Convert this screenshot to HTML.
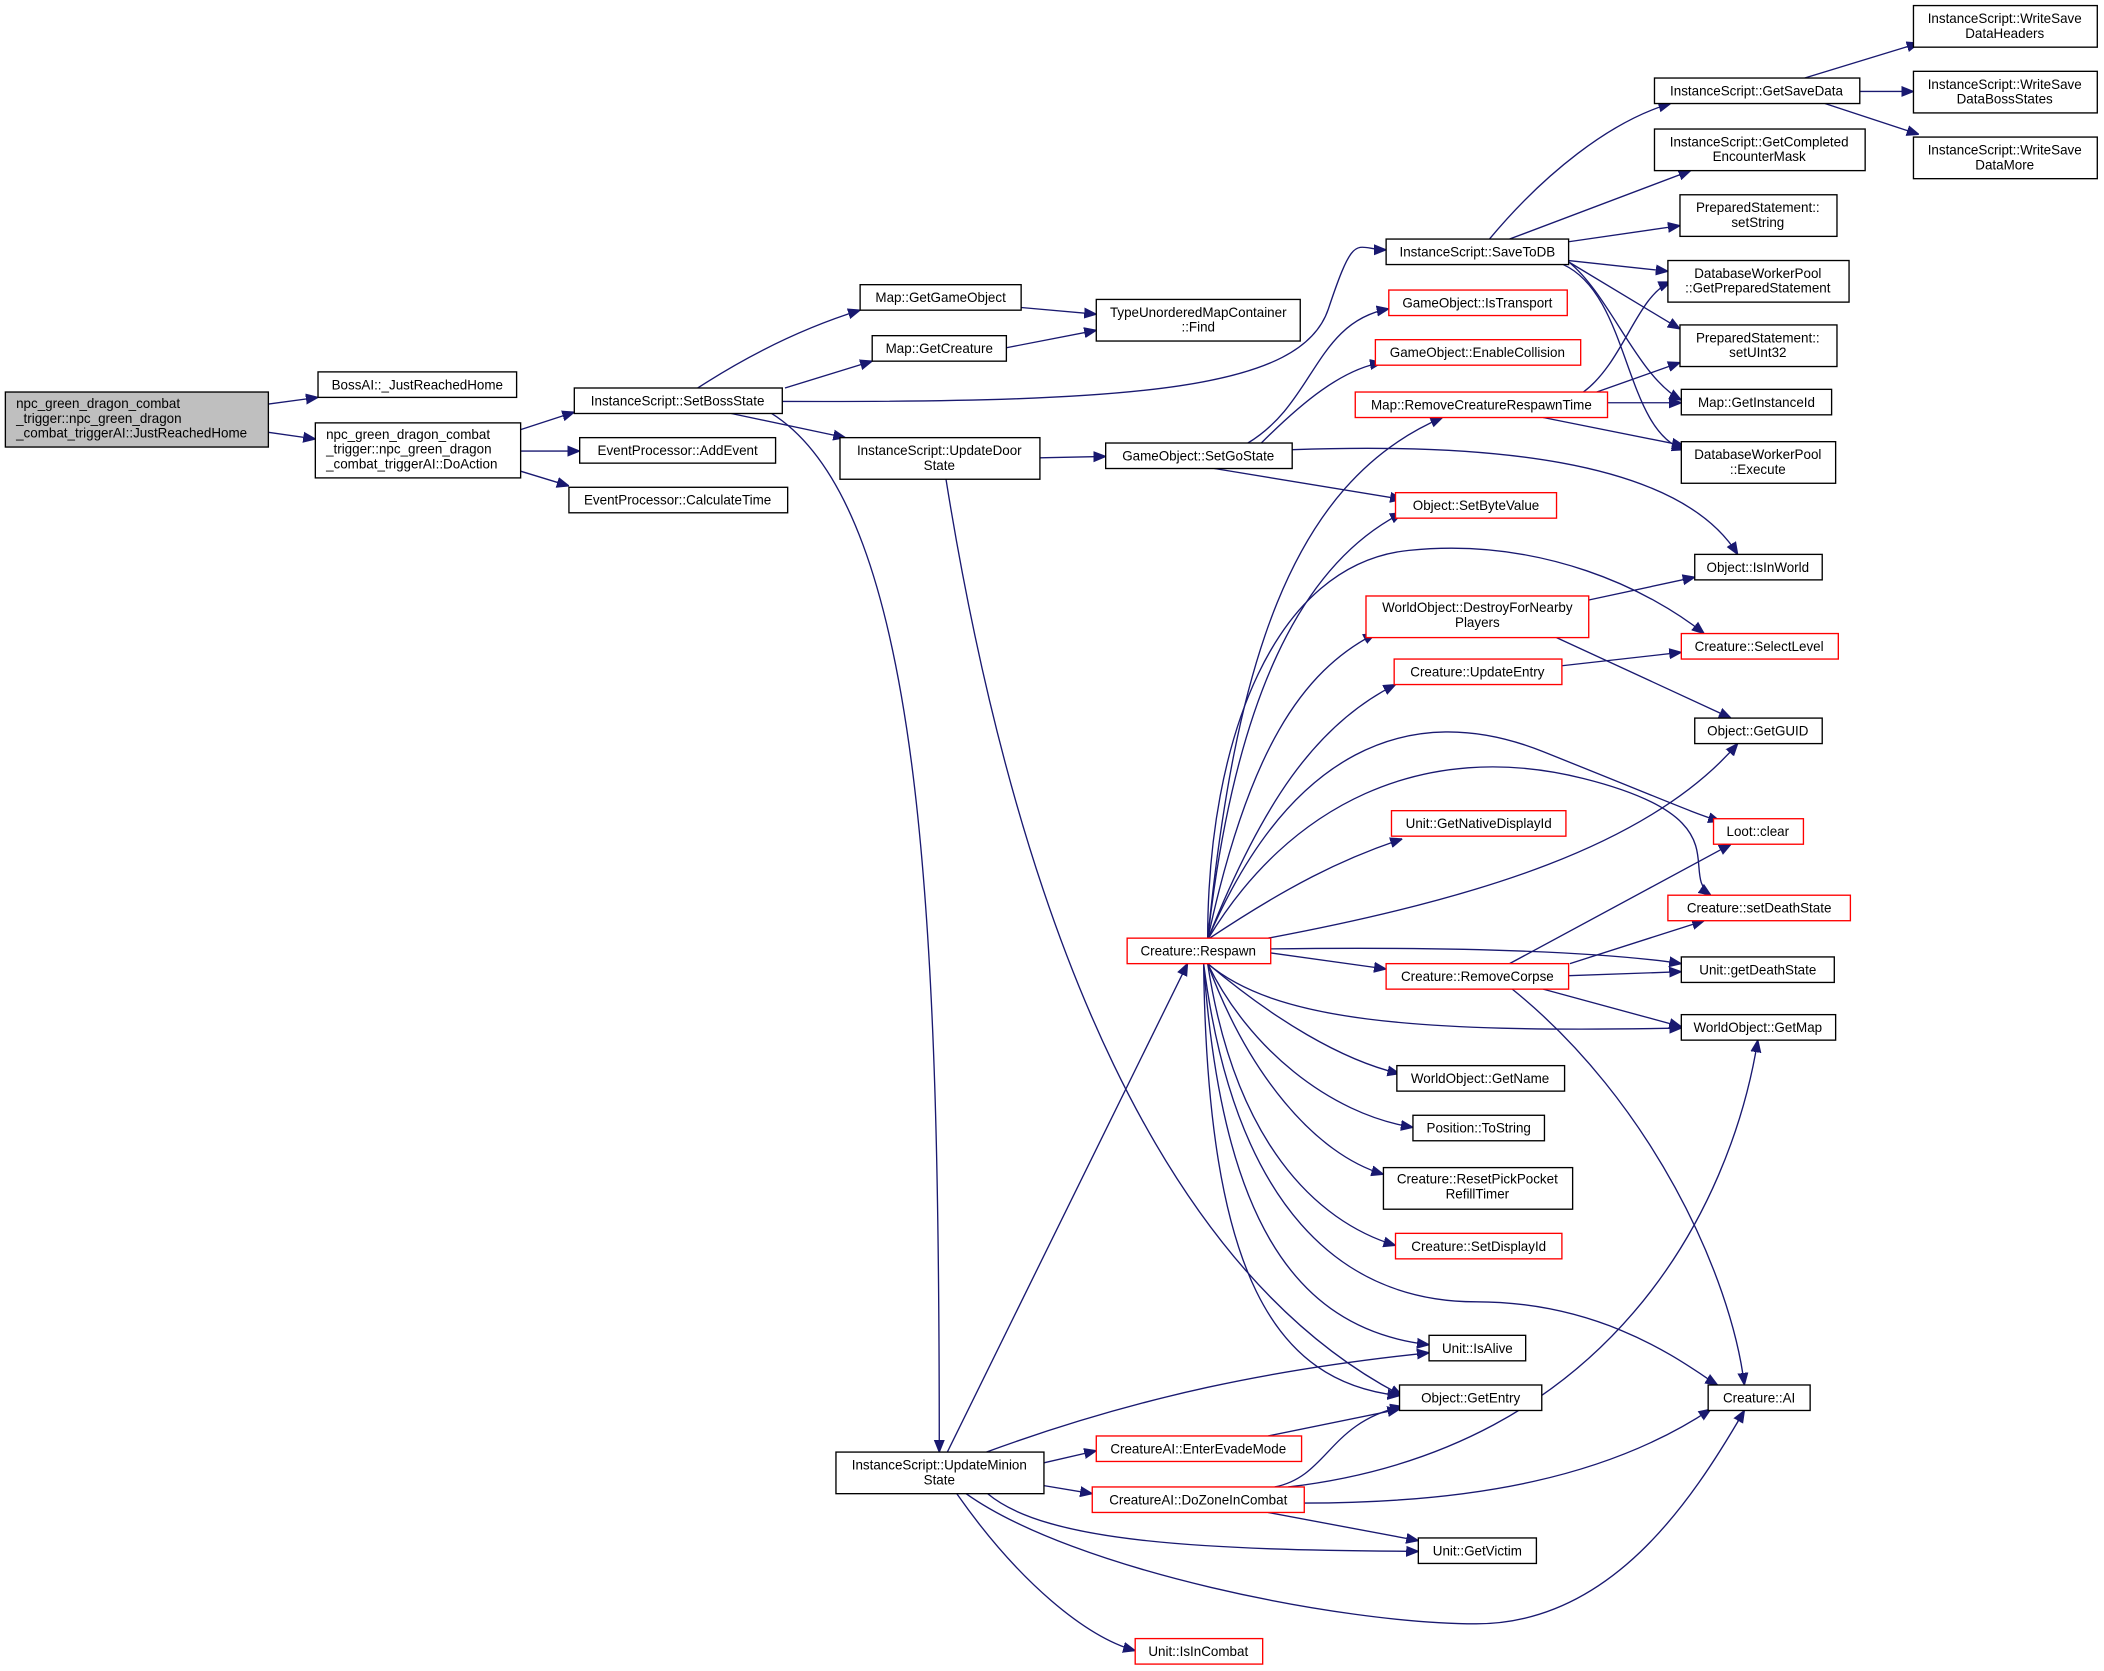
<!DOCTYPE html>
<html><head><meta charset="utf-8"><style>
html,body{margin:0;padding:0;background:#fff;}
svg{display:block;}
text{font-family:"Liberation Sans",sans-serif;font-size:10px;fill:#000;text-anchor:middle;}
.n{fill:#fff;stroke:#000;stroke-width:1;}
.r{fill:#fff;stroke:#f00;stroke-width:1;}
.e{fill:none;stroke:#191970;stroke-width:1;marker-end:url(#a);}
</style></head><body>
<svg width="2104" height="1671" viewBox="0 0 1568 1245" xmlns="http://www.w3.org/2000/svg">
<defs><marker id="a" viewBox="0 0 10 10" refX="10" refY="5" markerWidth="9" markerHeight="9" markerUnits="userSpaceOnUse" orient="auto"><path d="M0,1 L10,5 L0,9 z" fill="#191970" stroke="#191970"/></marker></defs>

<g>
<path class="e" d="M200,301 L237,296"/>
<path class="e" d="M200,322 L235,327"/>
<path class="e" d="M388,320 L428,307"/>
<path class="e" d="M388,336 L432,336"/>
<path class="e" d="M388,351 L424,362"/>
<path class="e" d="M520,289 Q580,250 641,231"/>
<path class="e" d="M585,289 L650,269"/>
<path class="e" d="M583,299 C850,300 970,290 990,230 S1010,186 1033,186"/>
<path class="e" d="M545,308 L630,326"/>
<path class="e" d="M575,308 C690,380 700,700 700,1082"/>
<path class="e" d="M761,229 L817,234"/>
<path class="e" d="M750,259 L817,246"/>
<path class="e" d="M775,341 L824,340"/>
<path class="e" d="M705,357 C760,700 870,950 1045,1040"/>
<path class="e" d="M930,330 C980,300 980,240 1035,230"/>
<path class="e" d="M940,330 C970,300 1000,275 1030,270"/>
<path class="e" d="M905,349 L1045,372"/>
<path class="e" d="M963,335 C1100,330 1250,340 1295,413"/>
<path class="e" d="M1110,178 C1150,130 1200,90 1245,77"/>
<path class="e" d="M1125,178 L1260,127"/>
<path class="e" d="M1169,180 L1252,168"/>
<path class="e" d="M1169,194 L1243,202"/>
<path class="e" d="M1169,195 L1252,245"/>
<path class="e" d="M1169,195 C1200,220 1220,280 1253,298"/>
<path class="e" d="M1165,197 C1215,220 1210,320 1255,335"/>
<path class="e" d="M1345,58 L1430,32"/>
<path class="e" d="M1386,68 L1426,68"/>
<path class="e" d="M1360,77 L1430,100"/>
<path class="e" d="M1180,292 C1210,270 1220,220 1245,210"/>
<path class="e" d="M1190,292 L1252,270"/>
<path class="e" d="M1198,300 L1253,300"/>
<path class="e" d="M1150,311 L1255,332"/>
<path class="e" d="M1184,447 L1263,430"/>
<path class="e" d="M1160,475 L1290,535"/>
<path class="e" d="M1164,496 L1253,486"/>
<path class="e" d="M1125,718 L1290,629"/>
<path class="e" d="M1170,718 L1270,686"/>
<path class="e" d="M1169,727 L1253,724"/>
<path class="e" d="M1150,737 L1253,765"/>
<path class="e" d="M1127,737 C1230,820 1290,950 1300,1032"/>
<path class="e" d="M706,1082 L885,718"/>
<path class="e" d="M735,1082 C850,1040 950,1020 1065,1008"/>
<path class="e" d="M778,1090 L817,1081"/>
<path class="e" d="M778,1107 L814,1113"/>
<path class="e" d="M736,1113 C780,1150 900,1155 1057,1156"/>
<path class="e" d="M713,1113 C760,1180 810,1220 846,1230"/>
<path class="e" d="M720,1113 C800,1170 1000,1210 1100,1210 C1200,1210 1260,1120 1300,1051"/>
<path class="e" d="M945,1070 L1043,1050"/>
<path class="e" d="M950,1108 C990,1100 990,1060 1045,1048"/>
<path class="e" d="M960,1108 C1200,1080 1290,900 1310,775"/>
<path class="e" d="M972,1120 C1100,1120 1200,1100 1275,1050"/>
<path class="e" d="M945,1127 L1057,1148"/>
<path class="e" d="M900,700 C920,500 960,360 1075,311"/>
<path class="e" d="M900,700 C920,520 970,420 1045,382"/>
<path class="e" d="M900,700 C900,550 950,420 1050,410 C1150,400 1230,440 1270,472"/>
<path class="e" d="M900,700 C930,560 970,500 1025,472"/>
<path class="e" d="M900,700 C940,600 980,540 1040,510"/>
<path class="e" d="M945,699 C1100,670 1230,630 1295,554"/>
<path class="e" d="M900,700 C960,560 1050,520 1150,560 S1260,605 1282,612"/>
<path class="e" d="M900,700 C960,600 1060,550 1180,580 S1250,650 1275,667"/>
<path class="e" d="M900,700 C960,660 1000,640 1045,625"/>
<path class="e" d="M947,707 C1100,705 1200,710 1253,718"/>
<path class="e" d="M947,710 L1033,722"/>
<path class="e" d="M900,718 C950,760 1050,770 1253,766"/>
<path class="e" d="M900,718 C950,760 1000,790 1043,800"/>
<path class="e" d="M900,718 C930,780 990,830 1053,840"/>
<path class="e" d="M900,718 C930,800 980,860 1031,875"/>
<path class="e" d="M900,718 C920,850 980,910 1040,928"/>
<path class="e" d="M897,718 C910,900 960,990 1065,1002"/>
<path class="e" d="M897,718 C900,950 950,1030 1043,1040"/>
<path class="e" d="M897,718 C920,900 1000,970 1100,970 C1200,970 1260,1020 1280,1032"/>
</g>

<rect x="4" y="292" width="196" height="41" fill="#bfbfbf" stroke="#000"/>
<text x="12" y="304" style="text-anchor:start">npc_green_dragon_combat</text>
<text x="12" y="315" style="text-anchor:start">_trigger::npc_green_dragon</text>
<text x="12" y="326" style="text-anchor:start">_combat_triggerAI::JustReachedHome</text>

<rect class="n" x="237" y="277" width="148" height="19"/><text x="311" y="290">BossAI::_JustReachedHome</text>
<rect class="n" x="235" y="315" width="153" height="41"/>
<text x="243" y="327" style="text-anchor:start">npc_green_dragon_combat</text>
<text x="243" y="338" style="text-anchor:start">_trigger::npc_green_dragon</text>
<text x="243" y="349" style="text-anchor:start">_combat_triggerAI::DoAction</text>
<rect class="n" x="428" y="289" width="155" height="19"/><text x="505" y="302">InstanceScript::SetBossState</text>
<rect class="n" x="432" y="326" width="146" height="19"/><text x="505" y="339">EventProcessor::AddEvent</text>
<rect class="n" x="424" y="363" width="163" height="19"/><text x="505" y="376">EventProcessor::CalculateTime</text>
<rect class="n" x="641" y="212" width="120" height="19"/><text x="701" y="225">Map::GetGameObject</text>
<rect class="n" x="650" y="250" width="100" height="19"/><text x="700" y="263">Map::GetCreature</text>
<rect class="n" x="817" y="223" width="152" height="31"/><text x="893" y="236">TypeUnorderedMapContainer</text><text x="893" y="247">::Find</text>
<rect class="n" x="626" y="326" width="149" height="31"/><text x="700" y="339">InstanceScript::UpdateDoor</text><text x="700" y="350">State</text>
<rect class="n" x="824" y="330" width="139" height="19"/><text x="893" y="343">GameObject::SetGoState</text>
<rect class="n" x="1033" y="178" width="136" height="19"/><text x="1101" y="191">InstanceScript::SaveToDB</text>
<rect class="r" x="1035" y="216" width="133" height="19"/><text x="1101" y="229">GameObject::IsTransport</text>
<rect class="r" x="1025" y="253" width="153" height="19"/><text x="1101" y="266">GameObject::EnableCollision</text>
<rect class="r" x="1010" y="292" width="188" height="19"/><text x="1104" y="305">Map::RemoveCreatureRespawnTime</text>
<rect class="r" x="1040" y="367" width="120" height="19"/><text x="1100" y="380">Object::SetByteValue</text>
<rect class="r" x="1018" y="444" width="166" height="31"/><text x="1101" y="456">WorldObject::DestroyForNearby</text><text x="1101" y="467">Players</text>
<rect class="r" x="1039" y="491" width="125" height="19"/><text x="1101" y="504">Creature::UpdateEntry</text>
<rect class="r" x="1037" y="604" width="130" height="19"/><text x="1102" y="617">Unit::GetNativeDisplayId</text>
<rect class="r" x="840" y="699" width="107" height="19"/><text x="893" y="712">Creature::Respawn</text>
<rect class="r" x="1033" y="718" width="136" height="19"/><text x="1101" y="731">Creature::RemoveCorpse</text>
<rect class="n" x="1041" y="794" width="125" height="19"/><text x="1103" y="807">WorldObject::GetName</text>
<rect class="n" x="1053" y="831" width="98" height="19"/><text x="1102" y="844">Position::ToString</text>
<rect class="n" x="1031" y="870" width="141" height="31"/><text x="1101" y="882">Creature::ResetPickPocket</text><text x="1101" y="893">RefillTimer</text>
<rect class="r" x="1040" y="919" width="124" height="19"/><text x="1102" y="932">Creature::SetDisplayId</text>
<rect class="n" x="1065" y="995" width="72" height="19"/><text x="1101" y="1008">Unit::IsAlive</text>
<rect class="n" x="1043" y="1032" width="106" height="19"/><text x="1096" y="1045">Object::GetEntry</text>
<rect class="r" x="817" y="1070" width="153" height="19"/><text x="893" y="1083">CreatureAI::EnterEvadeMode</text>
<rect class="r" x="814" y="1108" width="158" height="19"/><text x="893" y="1121">CreatureAI::DoZoneInCombat</text>
<rect class="n" x="1057" y="1146" width="88" height="19"/><text x="1101" y="1159">Unit::GetVictim</text>
<rect class="r" x="846" y="1221" width="95" height="19"/><text x="893" y="1234">Unit::IsInCombat</text>
<rect class="n" x="623" y="1082" width="155" height="31"/><text x="700" y="1095">InstanceScript::UpdateMinion</text><text x="700" y="1106">State</text>
<rect class="n" x="1233" y="58" width="153" height="19"/><text x="1309" y="71">InstanceScript::GetSaveData</text>
<rect class="n" x="1233" y="96" width="157" height="31"/><text x="1311" y="109">InstanceScript::GetCompleted</text><text x="1311" y="120">EncounterMask</text>
<rect class="n" x="1252" y="145" width="117" height="31"/><text x="1310" y="158">PreparedStatement::</text><text x="1310" y="169">setString</text>
<rect class="n" x="1243" y="194" width="135" height="31"/><text x="1310" y="207">DatabaseWorkerPool</text><text x="1310" y="218">::GetPreparedStatement</text>
<rect class="n" x="1252" y="242" width="117" height="31"/><text x="1310" y="255">PreparedStatement::</text><text x="1310" y="266">setUInt32</text>
<rect class="n" x="1253" y="290" width="112" height="19"/><text x="1309" y="303">Map::GetInstanceId</text>
<rect class="n" x="1253" y="329" width="115" height="31"/><text x="1310" y="342">DatabaseWorkerPool</text><text x="1310" y="353">::Execute</text>
<rect class="n" x="1263" y="413" width="95" height="19"/><text x="1310" y="426">Object::IsInWorld</text>
<rect class="r" x="1253" y="472" width="117" height="19"/><text x="1311" y="485">Creature::SelectLevel</text>
<rect class="n" x="1263" y="535" width="95" height="19"/><text x="1310" y="548">Object::GetGUID</text>
<rect class="r" x="1277" y="610" width="67" height="19"/><text x="1310" y="623">Loot::clear</text>
<rect class="r" x="1243" y="667" width="136" height="19"/><text x="1311" y="680">Creature::setDeathState</text>
<rect class="n" x="1253" y="713" width="114" height="19"/><text x="1310" y="726">Unit::getDeathState</text>
<rect class="n" x="1253" y="756" width="115" height="19"/><text x="1310" y="769">WorldObject::GetMap</text>
<rect class="n" x="1273" y="1032" width="76" height="19"/><text x="1311" y="1045">Creature::AI</text>
<rect class="n" x="1426" y="4" width="137" height="31"/><text x="1494" y="17">InstanceScript::WriteSave</text><text x="1494" y="28">DataHeaders</text>
<rect class="n" x="1426" y="53" width="137" height="31"/><text x="1494" y="66">InstanceScript::WriteSave</text><text x="1494" y="77">DataBossStates</text>
<rect class="n" x="1426" y="102" width="137" height="31"/><text x="1494" y="115">InstanceScript::WriteSave</text><text x="1494" y="126">DataMore</text>
</svg>
</body></html>
